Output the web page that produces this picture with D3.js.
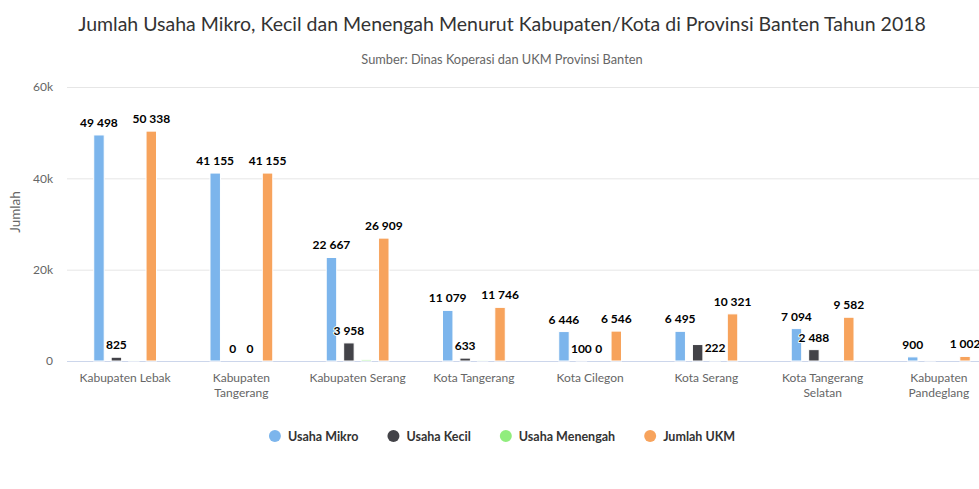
<!DOCTYPE html>
<html>
<head>
<meta charset="utf-8">
<script src="https://cdn.jsdelivr.net/npm/d3@7"></script>
<style>
  body { margin: 0; background: #fff; overflow: hidden; }
  text { font-family: Lato, "Open Sans", sans-serif; }
</style>
</head>
<body>
<div id="chart"></div>
<script>
// data
var categories = ["Kabupaten Lebak", "Kabupaten Tangerang", "Kabupaten Serang", "Kota Tangerang",
    "Kota Cilegon", "Kota Serang", "Kota Tangerang Selatan", "Kabupaten Pandeglang"];
var usahaMikro = [49498, 41155, 22667, 11079, 6446, 6495, 7094, 900];
var usahaKecil = [825, 0, 3958, 633, 100, 3604, 2488, 102];
var usahaMenengah = [15, 0, 284, 34, 0, 222, 0, 0];
var jumlahUkm = [50338, 41155, 26909, 11746, 6546, 10321, 9582, 1002];
var seriesNames = ["Usaha Mikro", "Usaha Kecil", "Usaha Menengah", "Jumlah UKM"];
var seriesColors = ["#7cb5ec", "#434348", "#90ed7d", "#f7a35c"];
var yTicks = [0, 20000, 40000, 60000];

var series = [usahaMikro, usahaKecil, usahaMenengah, jumlahUkm];

const width = 1004, height = 489;
var margin = { top: 87, right: 7, bottom: 128, left: 67 }
const plot_width = width - margin.left - margin.right,
    plot_height = height - margin.top - margin.bottom

var svg = d3.select('#chart')
    .append('svg')
    .attr('width', width)
    .attr('height', height)

svg.append('text')
    .attr('x', 502).attr('y', 31)
    .attr('text-anchor', 'middle')
    .style('font-size', '19.5px')
    .style('fill', '#333333')
    .text('Jumlah Usaha Mikro, Kecil dan Menengah Menurut Kabupaten/Kota di Provinsi Banten Tahun 2018')

svg.append('text')
    .attr('x', 502).attr('y', 64)
    .attr('text-anchor', 'middle')
    .style('font-size', '12.8px')
    .style('fill', '#666666')
    .text('Sumber: Dinas Koperasi dan UKM Provinsi Banten')

var plot = svg.append('g')
    .attr('transform', `translate(${margin.left},${margin.top})`);

var x0 = d3.scaleBand().domain(categories).range([0, plot_width]).padding(0);
var x1 = d3.scaleBand().domain(d3.range(series.length))
    .range([x0.bandwidth() * 0.2, x0.bandwidth() * 0.8])
    .paddingInner(0.4).paddingOuter(0.2);
var y = d3.scaleLinear().domain([0, 60000]).range([plot_height, 0]);

// grid lines
plot.append('g')
    .selectAll('line')
    .data(yTicks.slice(1))
    .enter().append('line')
    .attr('x1', 0).attr('x2', plot_width)
    .attr('y1', function (d) { return y(d) + 0.5 })
    .attr('y2', function (d) { return y(d) + 0.5 })
    .attr('stroke', '#e6e6e6')

// y axis labels
var yAxis = d3.axisLeft(y).tickValues(yTicks)
    .tickFormat(function (d) { return d == 0 ? '0' : (d / 1000) + 'k' })
    .tickSize(0).tickPadding(14);
var yg = plot.append('g').call(yAxis)
yg.select('.domain').remove()
yg.selectAll('text')
    .style('font-family', 'Lato, sans-serif')
    .style('font-size', '12px')
    .style('fill', '#666666')

svg.append('text')
    .attr('transform', `translate(20,${margin.top + plot_height / 2 - 12}) rotate(-90)`)
    .attr('text-anchor', 'middle')
    .style('font-size', '13.5px')
    .style('fill', '#666666')
    .text('Jumlah')

// x axis
var xg = plot.append('g').attr('transform', `translate(0,${plot_height})`)
xg.append('line')
    .attr('x1', 0).attr('x2', plot_width)
    .attr('y1', 0.5).attr('y2', 0.5)
    .attr('stroke', '#ccd6eb')

var xl = xg.selectAll('text')
    .data(categories)
    .enter().append('text')
    .attr('x', function (d) { return x0(d) + x0.bandwidth() / 2 })
    .attr('y', 21)
    .attr('text-anchor', 'middle')
    .style('font-size', '12px')
    .style('fill', '#666666')

// wrap long category names like the original
xl.each(function (d) {
    var t = d3.select(this), words = d.split(' '), line = [], lines = [];
    var maxw = x0.bandwidth() * 0.86;
    words.forEach(function (w) {
        line.push(w)
        t.text(line.join(' '))
        if (this_len(t) > maxw && line.length > 1) {
            line.pop()
            lines.push(line.join(' '))
            line = [w]
        }
    })
    lines.push(line.join(' '))
    t.text(null)
    lines.forEach(function (l, i) {
        t.append('tspan').attr('x', t.attr('x')).attr('dy', i == 0 ? 0 : 15).text(l)
    })
})
function this_len(t) { return t.node().getComputedTextLength() }

// bars
var groups = plot.append('g')
    .selectAll('g')
    .data(categories)
    .enter().append('g')
    .attr('transform', function (d) { return `translate(${x0(d)},0)` })

groups.selectAll('rect')
    .data(function (d, i) { return series.map(function (s, k) { return { k: k, v: s[i] } }) })
    .enter().append('rect')
    .attr('x', function (d) { return x1(d.k) })
    .attr('width', x1.bandwidth())
    .attr('y', function (d) { return y(d.v) })
    .attr('height', function (d) { return plot_height - y(d.v) })
    .attr('fill', function (d) { return seriesColors[d.k] })
    .attr('stroke', '#ffffff')
    .attr('stroke-width', function (d) { return d.v > 0 ? 1 : 0 })

// data labels, hiding the ones that collide (as the original does)
var labels = []
groups.each(function (c, i) {
    var g = d3.select(this)
    series.forEach(function (s, k) {
        var t = g.append('text')
            .attr('x', x1(k) + x1.bandwidth() / 2)
            .attr('y', y(s[i]) - 8)
            .attr('text-anchor', 'middle')
            .style('font-size', '12px')
            .style('font-weight', 'bold')
            .style('fill', '#000000')
            .style('stroke', '#ffffff')
            .style('stroke-width', 2)
            .style('stroke-linejoin', 'round')
            .style('paint-order', 'stroke')
            .text(d3.format(',')(s[i]).replace(/,/g, ' '))
        var b = t.node().getBBox()
        labels.push({ node: t, v: s[i], x: x0(c) + b.x - 1, y: b.y - 3, w: b.width + 2, h: b.height + 6 })
    })
})
labels.sort(function (a, b) { return b.v - a.v })
var kept = []
labels.forEach(function (l) {
    var hit = kept.some(function (o) {
        return l.x < o.x + o.w && o.x < l.x + l.w && l.y < o.y + o.h && o.y < l.y + l.h
    })
    if (hit) l.node.remove()
    else kept.push(l)
})

// legend
var legend = svg.append('g').attr('transform', 'translate(0,436)')
var items = legend.selectAll('g')
    .data(seriesNames)
    .enter().append('g')

items.each(function (d, i) {
    var g = d3.select(this)
    g.append('circle').attr('r', 6).attr('cx', 6).attr('fill', seriesColors[i])
    g.append('text').attr('x', 19).attr('y', 4.5)
        .style('font-size', '12.5px').style('font-weight', 'bold').style('fill', '#333333')
        .text(d)
})
// center the legend row
var widths = []
items.each(function () { widths.push(this.getBBox().width) })
var total = d3.sum(widths) + 29 * (widths.length - 1)
var start = 502 - total / 2
items.attr('transform', function (d, i) {
    var off = start + d3.sum(widths.slice(0, i)) + 29 * i
    return `translate(${off},0)`
})
</script>
</body>
</html>
